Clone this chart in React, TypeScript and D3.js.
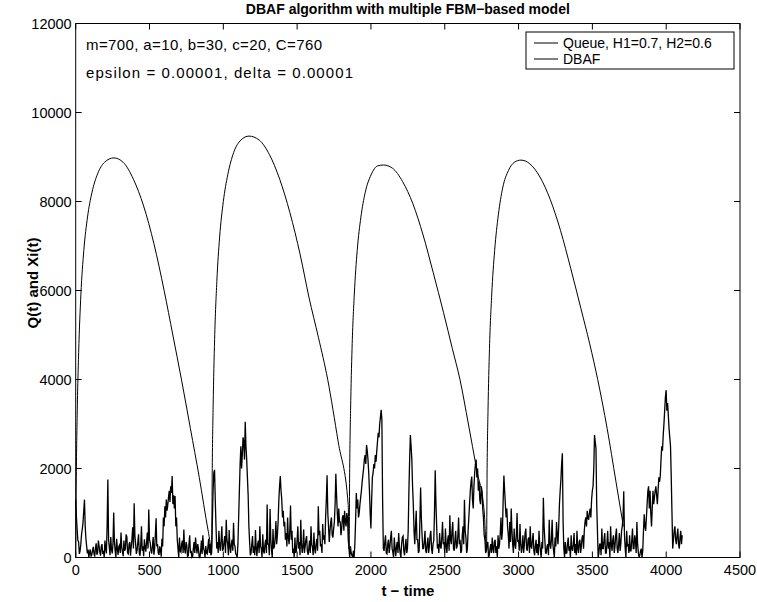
import React from "react";
import * as d3 from "d3";

const W = 757;
const H = 602;
const PLOT = { left: 75.7, right: 740, top: 23.5, bottom: 557.5 };

const xTicks = [0, 500, 1000, 1500, 2000, 2500, 3000, 3500, 4000, 4500];
const yTicks = [0, 2000, 4000, 6000, 8000, 10000, 12000];

const titleText = "DBAF algorithm with multiple FBM\u2212based model";
const xLabel = "t \u2212 time";
const yLabel = "Q(t) and Xi(t)";
const noteLines = ["m=700, a=10, b=30, c=20, C=760", "epsilon = 0.00001, delta = 0.00001"];
const noteWidths = [236, 267];
const legendLabels = ["Queue, H1=0.7, H2=0.6", "DBAF"];

// Queue curve
const queueTime = [
  0, 4, 10, 20, 35, 55, 80, 110, 148, 195, 258, 322, 391, 460, 530, 599, 658, 717, 777, 837, 898,
  921, 925, 931, 941, 956, 975, 1000, 1030, 1070, 1119, 1174, 1243, 1313, 1382, 1451, 1521, 1580, 1644, 1707, 1778, 1846,
  1852, 1856, 1862, 1872, 1887, 1907, 1932, 1961, 2001, 2045, 2085, 2145, 2214, 2284, 2353, 2422, 2492, 2551, 2603, 2660, 2716, 2768,
  2783, 2787, 2793, 2803, 2818, 2838, 2863, 2892, 2932, 2971, 3016, 3075, 3145, 3214, 3284, 3353, 3422, 3482, 3536, 3600, 3660, 3710,
];
const queueValue = [
  0, 1800, 3200, 4600, 5900, 6900, 7650, 8200, 8620, 8880, 8980, 8880, 8500, 7900, 7050, 6000, 5000, 3990, 2900, 1800, 590,
  200, 2000, 3400, 4900, 6200, 7200, 8000, 8600, 9100, 9380, 9470, 9380, 9050, 8500, 7750, 6800, 5850, 4950, 4000, 2600, 1190,
  200, 2000, 3300, 4700, 5900, 6900, 7650, 8200, 8600, 8800, 8820, 8750, 8450, 7950, 7250, 6400, 5500, 4700, 4000, 3000, 1980, 1000,
  150, 2000, 3300, 4700, 5900, 6900, 7700, 8300, 8700, 8880, 8930, 8850, 8550, 8050, 7350, 6500, 5600, 4800, 4000, 2900, 1700, 700,
];

// DBAF series, sampled every dbafStep time units
const dbafStep = 4.95;
const dbafValue = [
  1300, 900, 620, 380, 350, 80, 150, 300, 520, 640, 780, 1050, 1300, 700, 420, 250, 90, 180, 0, 120,
  180, 20, 60, 150, 240, 90, 20, 200, 320, 60, 110, 380, 260, 120, 40, 250, 300, 80, 150, 0,
  380, 200, 90, 700, 1750, 400, 230, 50, 460, 180, 90, 300, 1010, 350, 150, 0, 420, 200, 60, 250,
  280, 100, 560, 240, 120, 30, 380, 150, 200, 520, 470, 100, 80, 300, 350, 40, 240, 420, 680, 200,
  1220, 500, 300, 80, 160, 340, 520, 100, 40, 280, 700, 150, 250, 30, 410, 220, 130, 350, 560, 200,
  1080, 400, 330, 150, 90, 250, 460, 60, 200, 500, 880, 250, 300, 100, 60, 250, 180, 20, 420, 250,
  900, 700, 1150, 900, 1300, 1050, 1180, 1350, 1500, 1250, 1600, 1450, 1830, 1200, 1400, 1100, 1380, 700, 900, 400,
  200, 0, 450, 150, 120, 300, 380, 100, 630, 200, 90, 350, 280, 20, 40, 300, 500, 100, 150, 0,
  20, 200, 350, 100, 450, 250, 90, 300, 200, 0, 0, 150, 380, 80, 500, 200, 150, 0, 260, 100,
  80, 250, 420, 100, 300, 50, 100, 800, 1500, 1900, 1970, 1300, 700, 200, 350, 100, 600, 250, 150, 400,
  700, 150, 200, 350, 480, 100, 850, 400, 300, 50, 620, 250, 100, 300, 400, 150, 780, 300, 250, 80,
  60, 0, 300, 900, 1500, 2100, 2500, 2000, 2300, 2700, 2600, 2200, 3050, 2500, 2200, 1800, 1400, 700, 350, 50,
  100, 300, 480, 100, 250, 50, 620, 200, 30, 300, 380, 100, 700, 250, 200, 0, 520, 150, 90, 300,
  400, 100, 1190, 300, 300, 50, 1090, 400, 150, 0, 640, 200, 250, 450, 820, 300, 500, 800, 1300, 1600,
  1830, 1500, 1300, 900, 1050, 700, 800, 400, 550, 250, 900, 450, 300, 600, 1170, 400, 600, 100, 200, 0,
  450, 100, 150, 400, 700, 200, 350, 50, 850, 300, 100, 250, 630, 100, 250, 400, 480, 150, 60, 200,
  380, 100, 700, 300, 220, 50, 560, 200, 90, 300, 420, 150, 1150, 500, 600, 250, 300, 100, 750, 400,
  500, 300, 900, 1300, 1850, 1000, 700, 350, 600, 800, 900, 500, 450, 650, 800, 1200, 1880, 1400, 1000, 700,
  1100, 800, 800, 500, 650, 900, 950, 600, 1050, 800, 700, 1000, 900, 400, 200, 0, 250, 100, 50, 0,
  150, 0, 300, 800, 1450, 1100, 1300, 900, 1000, 1200, 1350, 1500, 1700, 1850, 2000, 2200, 2300, 2100, 2530, 2400,
  2200, 1900, 1500, 1000, 650, 1300, 1800, 1900, 2100, 2000, 2300, 2150, 2390, 2600, 2800, 2700, 3000, 3150, 3320, 3100,
  1300, 200, 150, 350, 500, 100, 80, 300, 400, 100, 250, 450, 600, 200, 120, 0, 450, 200, 30, 250,
  350, 100, 550, 250, 100, 0, 300, 450, 480, 150, 50, 250, 420, 100, 200, 600, 1500, 2200, 2750, 2500,
  2200, 1600, 1200, 600, 300, 700, 1050, 400, 400, 100, 150, 800, 1570, 900, 500, 200, 200, 350, 600, 150,
  100, 300, 450, 100, 250, 500, 600, 200, 80, 300, 380, 1000, 1960, 1200, 700, 200, 300, 100, 550, 250,
  200, 450, 800, 300, 350, 100, 650, 250, 100, 400, 500, 150, 950, 400, 300, 600, 800, 200, 150, 400,
  600, 200, 250, 500, 900, 300, 400, 100, 150, 500, 700, 300, 1300, 600, 450, 100, 200, 600, 900, 1200,
  1500, 1700, 1820, 1300, 1100, 1600, 1900, 2100, 2200, 1800, 2000, 1500, 1700, 1300, 1200, 1600, 1500, 1100, 900, 500,
  400, 100, 150, 300, 350, 0, 50, 200, 300, 100, 450, 200, 100, 350, 400, 100, 250, 0, 500, 200,
  300, 550, 900, 400, 600, 1300, 1840, 1500, 1200, 900, 1100, 700, 500, 200, 800, 350, 1100, 600, 300, 100,
  650, 300, 200, 500, 1000, 350, 400, 150, 750, 300, 100, 250, 500, 100, 300, 550, 650, 200, 150, 400,
  450, 100, 700, 250, 200, 400, 550, 150, 50, 250, 400, 100, 300, 50, 600, 300, 150, 0, 350, 200,
  1340, 700, 400, 100, 100, 250, 300, 50, 850, 300, 200, 400, 850, 300, 150, 0, 450, 250, 800, 500,
  300, 700, 1200, 1500, 1750, 2100, 2340, 800, 200, 0, 350, 100, 100, 300, 450, 150, 250, 0, 500, 200,
  150, 300, 550, 100, 300, 50, 600, 200, 100, 350, 400, 100, 250, 450, 500, 200, 600, 800, 900, 700,
  1050, 900, 850, 1000, 1100, 900, 1300, 1500, 1600, 2000, 2750, 2600, 2450, 1200, 600, 0, 100, 300, 300, 50,
  650, 200, 200, 400, 550, 100, 100, 300, 600, 200, 350, 0, 700, 300, 150, 400, 500, 100, 250, 500,
  650, 200, 100, 300, 550, 150, 300, 600, 700, 900, 1490, 500, 200, 0, 600, 250, 300, 100, 500, 150,
  150, 400, 650, 200, 200, 500, 400, 100, 800, 300, 100, 0, 50, 150, 200, 0, 150, 600, 970, 700,
  600, 900, 1200, 1500, 1600, 1100, 1500, 1000, 700, 1100, 1500, 1200, 1350, 1500, 1600, 1400, 1200, 1500, 1800, 1700,
  1830, 2200, 2500, 2400, 2750, 3000, 3300, 3600, 3760, 3300, 3470, 3200, 2900, 2700, 2500, 1800, 1000, 200, 400, 600,
  700, 400, 300, 500, 650, 300, 200, 450, 600, 300, 500,
];

const FONT = "'Liberation Sans', Arial, Helvetica, sans-serif";

export default function App() {
  const x = d3.scaleLinear().domain([0, 4500]).range([PLOT.left, PLOT.right]);
  const y = d3.scaleLinear().domain([0, 12000]).range([PLOT.bottom, PLOT.top]);

  const queuePts: [number, number][] = queueTime.map((t, i) => [t, queueValue[i]]);
  const dbafPts: [number, number][] = dbafValue.map((v, i) => [i * dbafStep, v]);

  const queueLine = d3
    .line<[number, number]>()
    .x((d) => x(d[0]))
    .y((d) => y(d[1]))
    .curve(d3.curveMonotoneX);
  const dbafLine = d3
    .line<[number, number]>()
    .x((d) => x(d[0]))
    .y((d) => y(d[1]));

  const tickLen = 6;
  const pw = PLOT.right - PLOT.left;
  const ph = PLOT.bottom - PLOT.top;
  const cx = (PLOT.left + PLOT.right) / 2;

  const lg = { x: 526, y: 32, w: 208, h: 37, row: 16 };

  return (
    <svg
      width={W}
      height={H}
      viewBox={`0 0 ${W} ${H}`}
      style={{ position: "absolute", left: 0, top: 0, background: "#fff" }}
      fontFamily={FONT}
    >
      <rect x={0} y={0} width={W} height={H} fill="#fff" />
      <path d={dbafLine(dbafPts) || ""} fill="none" stroke="#000" strokeWidth={1.3} />
      <path d={queueLine(queuePts) || ""} fill="none" stroke="#000" strokeWidth={1} />

      <rect x={PLOT.left} y={PLOT.top} width={pw} height={ph} fill="none" stroke="#000" strokeWidth={1} />

      {xTicks.map((t) => (
        <g key={"x" + t}>
          <line x1={x(t)} x2={x(t)} y1={PLOT.bottom} y2={PLOT.bottom - tickLen} stroke="#000" />
          <line x1={x(t)} x2={x(t)} y1={PLOT.top} y2={PLOT.top + tickLen} stroke="#000" />
          <text x={x(t)} y={PLOT.bottom + 17} fontSize={14.5} textAnchor="middle">
            {t}
          </text>
        </g>
      ))}
      {yTicks.map((v) => (
        <g key={"y" + v}>
          <line x1={PLOT.left} x2={PLOT.left + tickLen} y1={y(v)} y2={y(v)} stroke="#000" />
          <line x1={PLOT.right} x2={PLOT.right - tickLen} y1={y(v)} y2={y(v)} stroke="#000" />
          <text x={PLOT.left - 4} y={y(v) + 5} fontSize={14.5} textAnchor="end">
            {v}
          </text>
        </g>
      ))}

      <text x={cx} y={14} fontSize={14} fontWeight="bold" textAnchor="middle">
        {titleText}
      </text>
      <text x={cx} y={596} fontSize={15} fontWeight="bold" textAnchor="middle">
        {xLabel}
      </text>
      <text
        x={0}
        y={0}
        fontSize={15}
        fontWeight="bold"
        textAnchor="middle"
        transform={`translate(38, 283) rotate(-90)`}
      >
        {yLabel}
      </text>

      {noteLines.map((s, i) => (
        <text key={s} x={86} y={50 + i * 28} fontSize={15} textLength={noteWidths[i]} lengthAdjust="spacing">
          {s}
        </text>
      ))}

      <rect x={lg.x} y={lg.y} width={lg.w} height={lg.h} fill="#fff" stroke="#000" strokeWidth={1} />
      {legendLabels.map((s, i) => (
        <g key={s}>
          <line
            x1={lg.x + 8}
            x2={lg.x + 32}
            y1={lg.y + 11 + i * lg.row}
            y2={lg.y + 11 + i * lg.row}
            stroke="#000"
          />
          <text x={lg.x + 37} y={lg.y + 16 + i * lg.row} fontSize={14}>
            {s}
          </text>
        </g>
      ))}
    </svg>
  );
}
